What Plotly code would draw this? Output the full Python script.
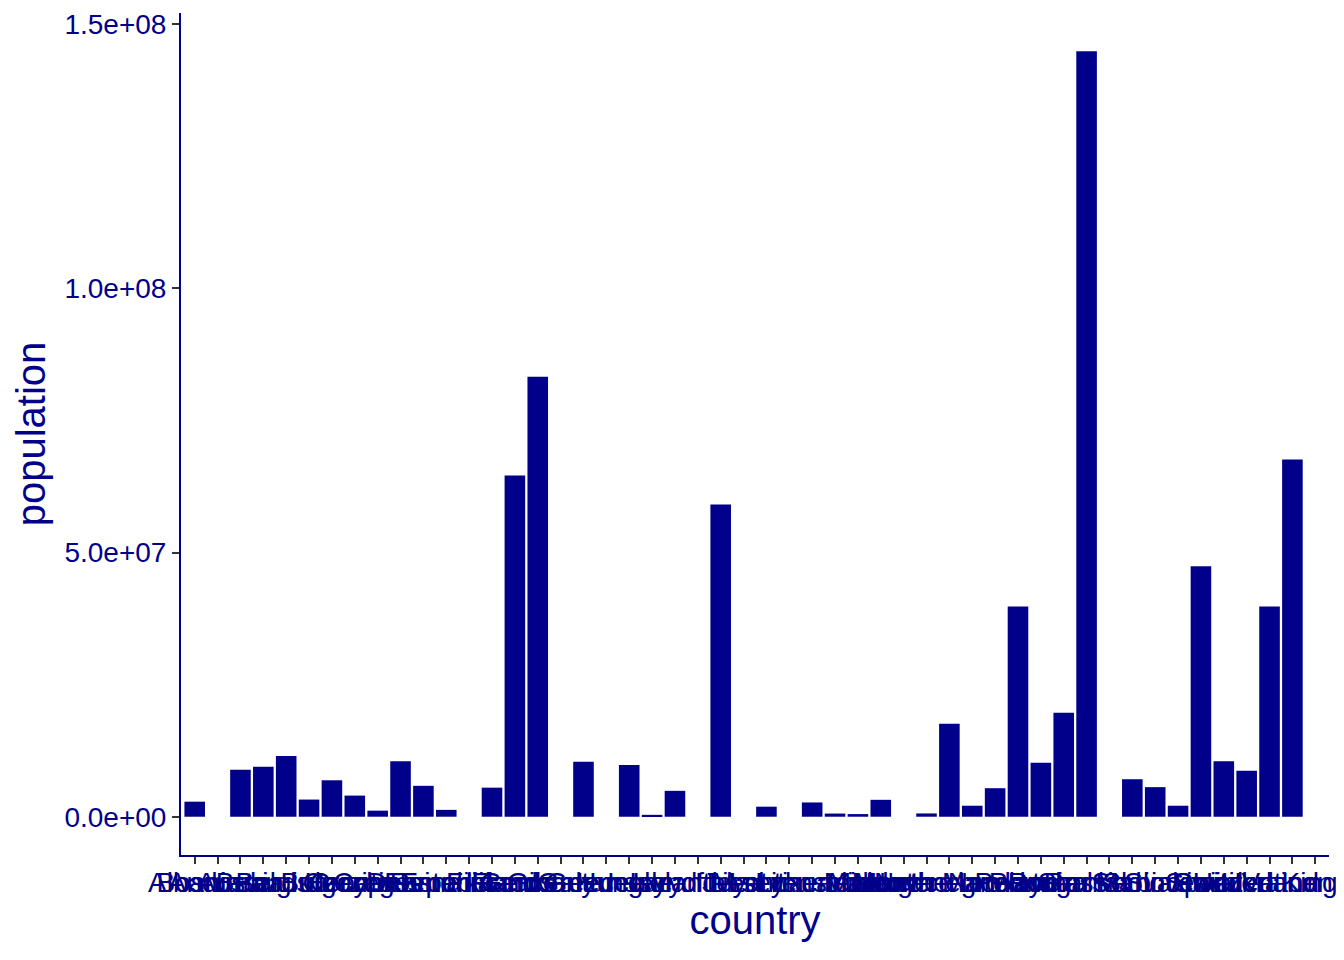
import plotly.graph_objects as go

countries = ["Albania", "Andorra", "Austria", "Belarus", "Belgium", "Bosnia and Herzegovina",
             "Bulgaria", "Croatia", "Cyprus", "Czech Republic", "Denmark", "Estonia",
             "Faroe Islands", "Finland", "France", "Germany", "Gibraltar", "Greece",
             "Guernsey", "Hungary", "Iceland", "Ireland", "Isle of Man", "Italy", "Jersey",
             "Latvia", "Liechtenstein", "Lithuania", "Luxembourg", "Malta", "Moldova",
             "Monaco", "Montenegro", "Netherlands", "North Macedonia", "Norway", "Poland",
             "Portugal", "Romania", "Russia", "San Marino", "Serbia", "Slovakia", "Slovenia",
             "Spain", "Sweden", "Switzerland", "Ukraine", "United Kingdom", "Vatican City"]

population = [2.85e6, 7.7e4, 8.9e6, 9.45e6, 11.5e6, 3.25e6,
              6.9e6, 4.0e6, 1.15e6, 10.5e6, 5.85e6, 1.3e6,
              4.9e4, 5.5e6, 64.6e6, 83.3e6, 3.4e4, 10.4e6,
              6.3e4, 9.8e6, 0.36e6, 4.9e6, 8.5e4, 59.1e6, 1.0e5,
              1.9e6, 3.8e4, 2.7e6, 0.6e6, 0.5e6, 3.2e6,
              3.9e4, 0.62e6, 17.6e6, 2.08e6, 5.4e6, 39.8e6,
              10.2e6, 19.7e6, 144.9e6, 3.4e4, 7.1e6, 5.6e6, 2.08e6,
              47.4e6, 10.5e6, 8.7e6, 39.8e6, 67.6e6, 8.0e2]

ytick_vals = [0, 5e7, 1e8, 1.5e8]
ytick_text = ["0.0e+00", "5.0e+07", "1.0e+08", "1.5e+08"]

dark = "#00008B"
font = "Liberation Sans, Arial, sans-serif"

# page body has an 8px default margin; compensate so the chart lands where the reference has it
W, H = 1336, 952
ml, mr, mt, mb = 173, 15, 5, 105
plot_h = H - mt - mb

ymax = max(population)
yr = [-0.05 * ymax, 1.05 * ymax]

# bars thinner than about one pixel are not visible in the reference rendering
px_h = [v / (yr[1] - yr[0]) * plot_h for v in population]
opac = [1.0 if p >= 1.0 else 0.0 for p in px_h]

fig = go.Figure(go.Bar(
    x=countries, y=population,
    marker=dict(color=dark, line=dict(width=0), opacity=opac),
    width=0.9,
))

fig.update_layout(
    width=W, height=H,
    paper_bgcolor="white", plot_bgcolor="white",
    margin=dict(l=ml, r=mr, t=mt, b=mb, autoexpand=False),
    showlegend=False,
    font=dict(family=font, color=dark),
    xaxis=dict(
        type="category",
        range=[-0.6, len(countries) - 1 + 0.6],
        tickmode="array", tickvals=countries, ticktext=countries,
        showline=True, linecolor=dark, linewidth=2,
        ticks="outside", ticklen=7, tickcolor="#333333", tickwidth=2,
        tickangle=0, ticklabelstandoff=-6,
        tickfont=dict(family=font, size=28, color=dark),
        showgrid=False, zeroline=False,
        title=dict(text="country", font=dict(family=font, size=40, color=dark), standoff=4),
    ),
    yaxis=dict(
        range=yr,
        tickmode="array", tickvals=ytick_vals, ticktext=ytick_text,
        showline=True, linecolor=dark, linewidth=2,
        ticks="outside", ticklen=7, tickcolor="#333333", tickwidth=2,
        tickfont=dict(family=font, size=28, color=dark),
        showgrid=False, zeroline=False,
        title=dict(text="population", font=dict(family=font, size=40, color=dark), standoff=6),
    ),
)

fig.write_html("out.html")
